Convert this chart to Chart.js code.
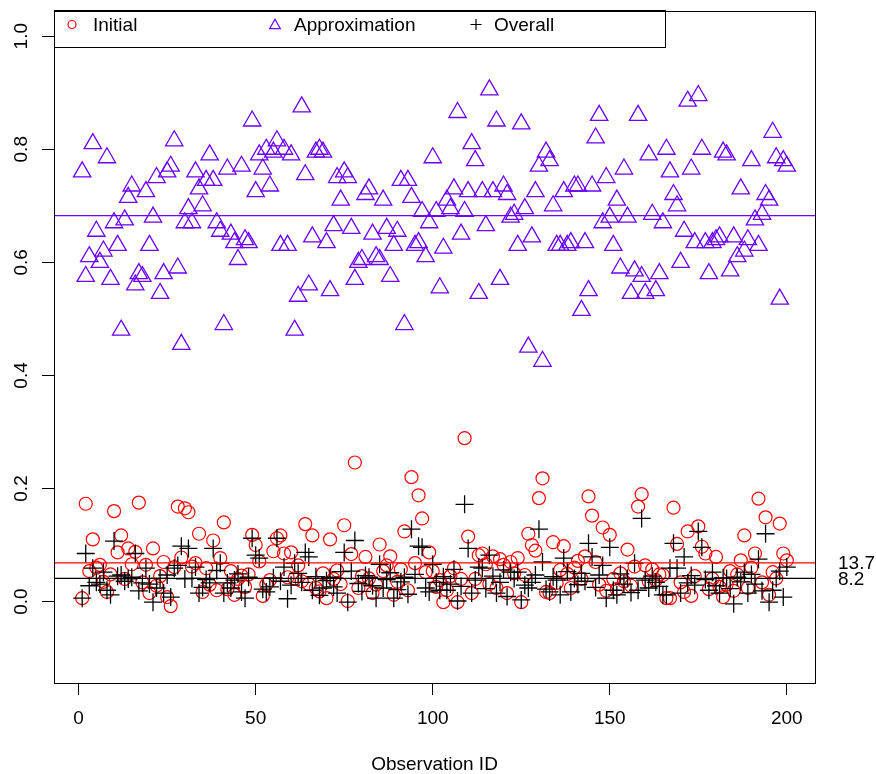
<!DOCTYPE html>
<html>
<head>
<meta charset="utf-8">
<title>Observation ID scatter</title>
<script src="https://cdn.jsdelivr.net/npm/chart.js@4.4.0/dist/chart.umd.min.js"></script>
<style>
  html, body { margin: 0; padding: 0; background: #ffffff; }
  #canvasContainer { width: 876px; height: 774px; }
</style>
</head>
<body>
<div id="canvasContainer"><canvas id="myChart" width="876" height="774"></canvas></div>
<script>
var observationIds = [];
for (var i = 1; i <= 200; i++) observationIds.push(i);

var initialValues = [
  0.006, 0.173, 0.054, 0.11, 0.06, 0.065, 0.035, 0.017, 0.048, 0.16,
  0.087, 0.117, 0.04, 0.094, 0.066, 0.088, 0.175, 0.034, 0.065, 0.015,
  0.094, 0.028, 0.045, 0.07, 0.008, -0.008, 0.061, 0.168, 0.078, 0.165,
  0.158, 0.062, 0.068, 0.12, 0.017, 0.059, 0.03, 0.108, 0.02, 0.077,
  0.14, 0.022, 0.054, 0.012, 0.04, 0.046, 0.026, 0.048, 0.118, 0.1,
  0.071, 0.01, 0.03, 0.038, 0.089, 0.112, 0.117, 0.085, 0.043, 0.087,
  0.041, 0.064, 0.036, 0.137, 0.031, 0.117, 0.024, 0.018, 0.05, 0.006,
  0.11, 0.04, 0.055, 0.031, 0.135, 0.001, 0.084, 0.246, 0.024, 0.045,
  0.079, 0.041, 0.015, 0.03, 0.101, 0.054, 0.064, 0.08, 0.012, 0.035,
  0.057, 0.124, 0.02, 0.22, 0.068, 0.188, 0.147, 0.052, 0.087, 0.054,
  0.026, 0.038, -0.001, 0.02, 0.045, 0.059, -0.001, 0.04, 0.289, 0.115,
  0.015, 0.04, 0.082, 0.085, 0.066, 0.031, 0.08, 0.024, 0.075, 0.065,
  0.015, 0.07, 0.05, 0.077, -0.001, 0.047, 0.12, 0.1, 0.09, 0.183,
  0.218, 0.017, 0.015, 0.105, 0.033, 0.056, 0.098, 0.049, 0.024, 0.06,
  0.072, 0.04, 0.08, 0.186, 0.152, 0.07, 0.03, 0.131, 0.019, 0.118,
  0.04, 0.022, 0.05, 0.036, 0.092, 0.028, 0.062, 0.168, 0.19, 0.064,
  0.036, 0.057, 0.038, 0.048, 0.047, 0.006, 0.006, 0.166, 0.102, 0.034,
  0.017, 0.124, 0.01, 0.045, 0.133, 0.097, 0.085, 0.022, 0.04, 0.079,
  0.026, 0.008, 0.03, 0.054, 0.019, 0.048, 0.073, 0.117, 0.024, 0.06,
  0.085, 0.182, 0.034, 0.149, 0.012, 0.052, 0.041, 0.138, 0.085, 0.073
];

var approximationValues = [
  0.76, 0.575, 0.61, 0.81, 0.655, 0.60, 0.62, 0.785, 0.57, 0.67,
  0.63, 0.48, 0.675, 0.715, 0.735, 0.56, 0.58, 0.575, 0.725, 0.63,
  0.68, 0.75, 0.545, 0.58, 0.76, 0.77, 0.815, 0.59, 0.455, 0.67,
  0.695, 0.67, 0.76, 0.73, 0.70, 0.745, 0.79, 0.745, 0.67, 0.655,
  0.49, 0.765, 0.65, 0.635, 0.605, 0.77, 0.64, 0.635, 0.85, 0.725,
  0.79, 0.765, 0.80, 0.735, 0.795, 0.815, 0.63, 0.80, 0.63, 0.79,
  0.48, 0.54, 0.875, 0.755, 0.56, 0.645, 0.795, 0.80, 0.795, 0.635,
  0.55, 0.665, 0.75, 0.71, 0.76, 0.75, 0.66, 0.57, 0.60, 0.605,
  0.72, 0.73, 0.65, 0.61, 0.605, 0.71, 0.66, 0.575, 0.63, 0.655,
  0.745, 0.49, 0.745, 0.715, 0.63, 0.635, 0.69, 0.61, 0.67, 0.785,
  0.69, 0.555, 0.625, 0.71, 0.695, 0.73, 0.865, 0.65, 0.69, 0.725,
  0.81, 0.78, 0.545, 0.725, 0.665, 0.905, 0.725, 0.85, 0.57, 0.735,
  0.72, 0.68, 0.685, 0.63, 0.845, 0.695, 0.45, 0.645, 0.725, 0.77,
  0.425, 0.795, 0.78, 0.70, 0.63, 0.63, 0.725, 0.63, 0.635, 0.735,
  0.735, 0.515, 0.635, 0.55, 0.735, 0.82, 0.86, 0.67, 0.75, 0.68,
  0.63, 0.71, 0.59, 0.765, 0.68, 0.545, 0.585, 0.86, 0.575, 0.545,
  0.79, 0.685, 0.55, 0.58, 0.67, 0.80, 0.76, 0.72, 0.70, 0.60,
  0.655, 0.885, 0.765, 0.635, 0.895, 0.80, 0.635, 0.58, 0.635, 0.64,
  0.645, 0.795, 0.79, 0.585, 0.645, 0.61, 0.73, 0.62, 0.64, 0.78,
  0.675, 0.63, 0.685, 0.72, 0.71, 0.83, 0.785, 0.535, 0.78, 0.77
];

var overallValues = [
  0.006, 0.085, 0.028, 0.059, 0.034, 0.031, 0.052, 0.02, 0.012, 0.107,
  0.045, 0.047, 0.036, 0.04, 0.043, 0.085, 0.019, 0.033, 0.059, 0.031,
  -0.001, 0.024, 0.041, 0.015, 0.047, 0.008, 0.059, 0.064, 0.098, 0.04,
  0.094, 0.041, 0.061, 0.015, 0.025, 0.039, 0.033, 0.094, 0.055, 0.068,
  0.015, 0.033, 0.024, 0.038, 0.049, 0.017, 0.006, 0.043, 0.112, 0.082,
  0.077, 0.022, 0.017, 0.026, 0.042, 0.112, 0.036, 0.061, 0.005, 0.029,
  0.068, 0.05, 0.034, 0.087, 0.079, 0.02, 0.044, 0.011, 0.024, 0.037,
  0.043, 0.026, 0.015, 0.053, 0.087, -0.001, 0.054, 0.108, 0.032, 0.018,
  0.046, 0.043, 0.028, 0.006, 0.066, 0.024, 0.039, 0.051, 0.006, 0.021,
  0.035, 0.043, 0.013, 0.128, 0.048, 0.098, 0.096, 0.024, 0.017, 0.066,
  0.034, 0.02, 0.044, 0.02, 0.031, 0.057, 0.001, 0.027, 0.172, 0.094,
  0.015, 0.038, 0.061, 0.059, 0.023, 0.082, 0.045, 0.015, 0.034, 0.056,
  0.009, 0.052, 0.041, 0.052, 0.003, 0.029, 0.024, 0.034, 0.047, 0.128,
  0.07, 0.022, 0.017, 0.044, 0.038, 0.012, 0.077, 0.053, 0.017, 0.041,
  0.03, 0.05, 0.036, 0.103, 0.079, 0.025, 0.047, 0.064, 0.006, 0.096,
  0.02, 0.012, 0.049, 0.031, 0.041, 0.016, 0.068, 0.02, 0.147, 0.038,
  0.024, 0.045, 0.034, 0.027, 0.012, 0.012, 0.059, 0.103, 0.059, 0.015,
  0.079, 0.033, 0.046, 0.029, 0.124, 0.096, 0.039, 0.02, 0.052, 0.028,
  0.015, 0.042, 0.041, 0.023, -0.004, 0.043, 0.035, 0.052, 0.015, 0.048,
  0.031, 0.075, 0.019, 0.12, -0.001, 0.02, 0.041, 0.054, 0.008, 0.061
];

// horizontal reference lines and the numbers printed beside them
var refLineValues = [0.0686, 0.6827, 0.0411];
var refLineLabels = ["13.7", "", "8.2"];

var xTicks = [0, 50, 100, 150, 200];
var yTicks = [0, 0.2, 0.4, 0.6, 0.8, 1.0];
var yTickLabels = ["0.0", "0.2", "0.4", "0.6", "0.8", "1.0"];
var seriesNames = ["Initial", "Approximation", "Overall"];

var RED = "#ff0000";
var PURPLE = "#6a00ff";
var BLACK = "#000000";
var refLineColors = [RED, PURPLE, BLACK];
var FONT = "'Liberation Sans', Arial, Helvetica, sans-serif";

function toPoints(values) {
  return values.map(function (v, i) {
    return { x: observationIds[i], y: v };
  });
}

function strokeSymbol(c, style, x, y, r, color) {
  c.save();
  c.strokeStyle = color;
  c.lineWidth = 1.2;
  c.beginPath();
  if (style === "circle") {
    c.arc(x, y, r, 0, Math.PI * 2);
  } else if (style === "triangle") {
    c.moveTo(x, y - r);
    c.lineTo(x + r * Math.sqrt(3) / 2, y + r / 2);
    c.lineTo(x - r * Math.sqrt(3) / 2, y + r / 2);
    c.closePath();
  } else {
    c.moveTo(x - r, y);
    c.lineTo(x + r, y);
    c.moveTo(x, y - r);
    c.lineTo(x, y + r);
  }
  c.stroke();
  c.restore();
}

var decorPlugin = {
  id: "decor",
  afterDatasetsDraw: function (chart) {
    var c = chart.ctx, area = chart.chartArea, ys = chart.scales.y;
    c.save();
    c.lineWidth = 1.3;
    refLineValues.forEach(function (v, i) {
      var py = ys.getPixelForValue(v);
      c.strokeStyle = refLineColors[i];
      c.beginPath();
      c.moveTo(area.left, py);
      c.lineTo(area.right, py);
      c.stroke();
    });
    c.restore();
  },
  afterDraw: function (chart) {
    var c = chart.ctx, area = chart.chartArea, ys = chart.scales.y;
    c.save();
    // plot frame
    c.strokeStyle = BLACK;
    c.lineWidth = 1;
    c.strokeRect(Math.round(area.left) + 0.5, Math.round(area.top) + 0.5,
      Math.round(area.right - area.left), Math.round(area.bottom - area.top));

    c.fillStyle = BLACK;
    c.font = "19px " + FONT;

    // y tick labels, rotated like base R
    yTicks.forEach(function (v, i) {
      var py = ys.getPixelForValue(v);
      c.save();
      c.translate(27, py);
      c.rotate(-Math.PI / 2);
      c.textAlign = "center";
      c.textBaseline = "alphabetic";
      c.fillText(yTickLabels[i], 0, 0);
      c.restore();
    });

    // x axis title
    c.textAlign = "center";
    c.textBaseline = "alphabetic";
    c.fillText("Observation ID", (area.left + area.right) / 2, 770);

    // numbers next to the reference lines
    c.textAlign = "left";
    c.textBaseline = "middle";
    refLineValues.forEach(function (v, i) {
      if (refLineLabels[i]) c.fillText(refLineLabels[i], 838, ys.getPixelForValue(v) + 1);
    });

    // legend box
    c.strokeRect(Math.round(area.left) + 0.5, 10.5, 611, 37);
    var legendSymbolX = [72, 275, 476];
    var legendTextX = [93, 294, 494];
    var legendStyles = ["circle", "triangle", "cross"];
    var legendRadius = [4, 6.2, 5.6];
    var legendColors = [RED, PURPLE, BLACK];
    c.textBaseline = "middle";
    seriesNames.forEach(function (name, i) {
      strokeSymbol(c, legendStyles[i], legendSymbolX[i], legendStyles[i] === "triangle" ? 25.5 : 24.5, legendRadius[i], legendColors[i]);
      c.fillStyle = BLACK;
      c.fillText(name, legendTextX[i], 25.5);
    });
    c.restore();
  }
};

var ctx = document.getElementById("myChart").getContext("2d");
var chart = new Chart(ctx, {
  type: "scatter",
  data: {
    datasets: [
      {
        label: seriesNames[0],
        data: toPoints(initialValues),
        pointStyle: "circle",
        pointRadius: 6.5,
        pointBorderWidth: 1.2,
        pointBorderColor: RED,
        pointBackgroundColor: "rgba(0,0,0,0)",
        order: 3
      },
      {
        label: seriesNames[1],
        data: toPoints(approximationValues),
        pointStyle: "triangle",
        pointRadius: 10,
        pointBorderWidth: 1.3,
        pointBorderColor: PURPLE,
        pointBackgroundColor: "rgba(0,0,0,0)",
        order: 2
      },
      {
        label: seriesNames[2],
        data: toPoints(overallValues),
        pointStyle: "cross",
        pointRadius: 9,
        pointBorderWidth: 1.3,
        pointBorderColor: BLACK,
        pointBackgroundColor: "rgba(0,0,0,0)",
        order: 1
      }
    ]
  },
  options: {
    responsive: false,
    animation: false,
    events: [],
    layout: { padding: { top: 9, right: 61, left: 0, bottom: 0 } },
    plugins: {
      legend: { display: false },
      tooltip: { enabled: false }
    },
    scales: {
      x: {
        type: "linear",
        min: -6.96,
        max: 207.96,
        afterFit: function (scale) { scale.height = 91; },
        afterBuildTicks: function (scale) {
          scale.ticks = xTicks.map(function (v) { return { value: v }; });
        },
        grid: { drawOnChartArea: false, drawTicks: true, tickLength: 12, color: BLACK, lineWidth: 1 },
        border: { display: false },
        ticks: {
          color: BLACK,
          padding: 12,
          maxRotation: 0,
          font: { family: FONT, size: 19 }
        }
      },
      y: {
        type: "linear",
        min: -0.144,
        max: 1.044,
        afterFit: function (scale) { scale.width = 54; },
        afterBuildTicks: function (scale) {
          scale.ticks = yTicks.map(function (v) { return { value: v }; });
        },
        grid: { drawOnChartArea: false, drawTicks: true, tickLength: 12, color: BLACK, lineWidth: 1 },
        border: { display: false },
        ticks: { display: false }
      }
    }
  },
  plugins: [decorPlugin]
});
</script>
</body>
</html>
